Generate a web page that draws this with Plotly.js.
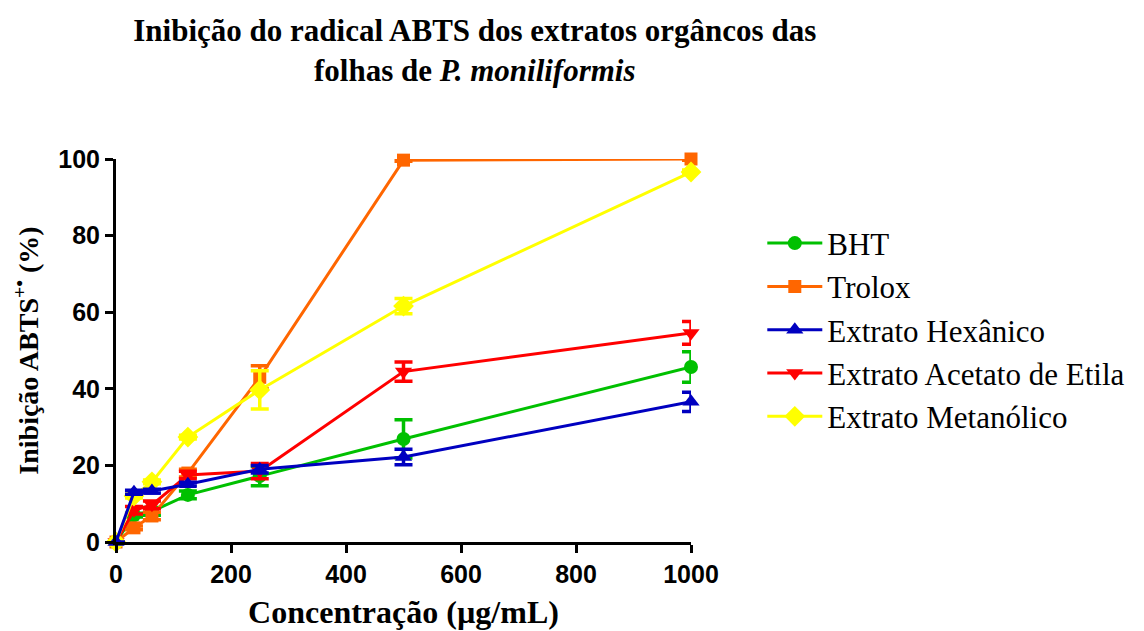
<!DOCTYPE html>
<html>
<head>
<meta charset="utf-8">
<script src="https://cdn.plot.ly/plotly-3.0.1.min.js"></script>
<style>html,body{margin:0;padding:0;background:#fff;}#chart{width:1144px;height:631px;}</style>
</head>
<body>
<div id="chart"></div>
<script>
const concentrations = [0, 31.25, 62.5, 125, 250, 500, 1000];

const bhtValues = [0, 7, 8, 12.3, 17.2, 26.9, 45.7];
const bhtErrors = [0, 0.5, 1, 1, 2.5, 5, 4];

const troloxValues = [0, 3.7, 6.8, 18, 43, 99.7, 100];
const troloxErrors = [0, 0.5, 1, 1, 3, 0.3, 0.3];

const hexanicoValues = [0, 13, 13.3, 15.1, 19, 22.2, 36.6];
const hexanicoErrors = [0, 0.5, 0.5, 0.5, 1, 2, 2.5];

const acetatoValues = [0, 8.3, 9.7, 17.5, 18.5, 44.5, 54.6];
const acetatoErrors = [0, 1, 1, 1, 2, 2.5, 3];

const metanolicoValues = [0, 12, 15.7, 27.4, 39.7, 61.6, 96.6];
const metanolicoErrors = [0, 0.5, 0.5, 0.5, 5, 2, 0.5];

const seriesNames = ["BHT", "Trolox", "Extrato Hexânico", "Extrato Acetato de Etila", "Extrato Metanólico"];

function mk(name, y, err, color, symbol, rank, msize) {
  return {
    x: concentrations, y: y, name: name, type: 'scatter', mode: 'lines+markers',
    line: {color: color, width: 3},
    marker: {color: color, symbol: symbol, size: msize},
    error_y: {type: 'data', array: err, visible: true, color: color, thickness: 3.5, width: 9},
    cliponaxis: false,
    legendrank: rank
  };
}

const traces = [
  mk(seriesNames[0], bhtValues, bhtErrors, '#00C000', 'circle', 1, 14),
  mk(seriesNames[1], troloxValues, troloxErrors, '#FF6600', 'square', 2, 13),
  mk(seriesNames[3], acetatoValues, acetatoErrors, '#FF0000', 'triangle-down', 4, 15),
  mk(seriesNames[4], metanolicoValues, metanolicoErrors, '#FFFF00', 'diamond', 5, 16),
  mk(seriesNames[2], hexanicoValues, hexanicoErrors, '#0000C0', 'triangle-up', 3, 15)
];

const serif = 'Liberation Serif, Times New Roman, serif';
const sans = 'Liberation Sans, Arial, sans-serif';

const layout = {
  width: 1144, height: 631,
  paper_bgcolor: '#fff', plot_bgcolor: '#fff',
  margin: {l: 116, r: 453, t: 159, b: 89},
  title: {
    text: '<b>Inibição do radical ABTS dos extratos orgâncos das<br>folhas de <i>P. moniliformis</i></b>',
    font: {family: serif, size: 31, color: '#000'},
    x: 0.415, xanchor: 'center', y: 0.935, yanchor: 'top'
  },
  xaxis: {
    range: [0, 1000], tickvals: [0, 200, 400, 600, 800, 1000],
    showgrid: false, zeroline: false, showline: true, linecolor: '#000', linewidth: 3,
    ticks: 'outside', ticklen: 8, tickwidth: 3, tickcolor: '#000',
    tickfont: {family: sans, size: 25, color: '#000', weight: 'bold'},
    title: {text: '<b>Concentração (µg/mL)</b>', font: {family: serif, size: 32, color: '#000'}, standoff: 14}
  },
  yaxis: {
    range: [0, 100], tickvals: [0, 20, 40, 60, 80, 100],
    showgrid: false, zeroline: false, showline: true, linecolor: '#000', linewidth: 3,
    ticks: 'outside', ticklen: 8, tickwidth: 3, tickcolor: '#000',
    tickfont: {family: sans, size: 25, color: '#000', weight: 'bold'},
    title: {text: '<b>Inibição ABTS<sup>+•</sup> (%)</b>', font: {family: serif, size: 28, color: '#000'}, standoff: 12}
  },
  legend: {
    x: 1.124, xanchor: 'left', y: 0.85, yanchor: 'top',
    font: {family: serif, size: 31, color: '#000'},
    bgcolor: 'rgba(0,0,0,0)', tracegroupgap: 0, itemwidth: 55
  },
  showlegend: true
};

Plotly.newPlot('chart', traces, layout, {displayModeBar: false, staticPlot: true});
</script>
</body>
</html>
